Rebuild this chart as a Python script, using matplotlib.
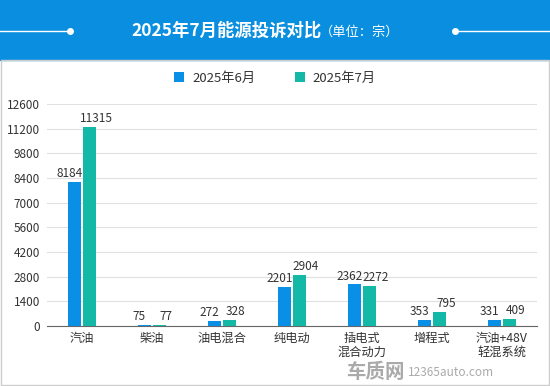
import matplotlib
matplotlib.use("Agg")
import matplotlib.pyplot as plt
from matplotlib.patches import Rectangle
import numpy as np

plt.rcParams['font.family'] = ['Noto Sans CJK SC', 'DejaVu Sans']

categories = ["汽油", "柴油", "油电混合", "纯电动", "插电式\n混合动力", "增程式", "汽油+48V\n轻混系统"]
june = [8184, 75, 272, 2201, 2362, 353, 331]
july = [11315, 77, 328, 2904, 2272, 795, 409]
yticks = [0, 1400, 2800, 4200, 5600, 7000, 8400, 9800, 11200, 12600]
series_names = ["2025年6月", "2025年7月"]
title = "2025年7月能源投诉对比"
unit = "（单位：宗）"

W, H = 550, 386
fig = plt.figure(figsize=(W/100, H/100), dpi=100)
fig.patch.set_facecolor('white')

# header band
bg = fig.add_axes([0, 0, 1, 1], zorder=-1)
bg.set_xlim(0, W); bg.set_ylim(H, 0); bg.axis('off')
bg.add_patch(Rectangle((0, 0), W, 60, color='#0a8fe0'))
bg.add_patch(Rectangle((1, 60), W-2, H-61, fill=False, ec='#cccccc', lw=1))
bg.plot([0, 70], [30.5, 30.5], color='white', lw=1)
bg.plot([70], [30.5], 'o', color='white', ms=4)
bg.plot([455, W], [30.5, 30.5], color='white', lw=1)
bg.plot([455], [30.5], 'o', color='white', ms=4)
bg.text(322, 31, title, color='white', fontsize=12.5, fontweight='bold', ha='right', va='center')
bg.text(320, 32, unit, color='white', fontsize=9.5, ha='left', va='center')

# chart axes
left, right, top, bottom = 47, 537, 104, 326
ax = fig.add_axes([left/W, 1-bottom/H, (right-left)/W, (bottom-top)/H])
x = np.arange(len(categories))
bw = 0.195
c1, c2 = '#0a8fe6', '#14b8a6'
b1 = ax.bar(x - bw/2 - 0.012, june, bw, color=c1, label=series_names[0], zorder=3)
b2 = ax.bar(x + bw/2 + 0.012, july, bw, color=c2, label=series_names[1], zorder=3)
for bars, vals, off in ((b1, june, -0.07), (b2, july, 0.09)):
    for r, v in zip(bars, vals):
        ax.text(r.get_x() + r.get_width()/2 + off, v + 100, str(v), ha='center', va='bottom',
                fontsize=8.5, color='#333333')
ax.set_xlim(-0.5, len(categories) - 0.5)
ax.set_ylim(0, 12600)
ax.set_yticks(yticks)
ax.set_yticklabels([str(t) for t in yticks], fontsize=8.5, color='#333333')
ax.set_xticks(x)
ax.set_xticklabels(categories, fontsize=8.8, color='#333333', linespacing=1.1)
ax.tick_params(axis='both', length=0, pad=5)
ax.tick_params(axis='x', pad=4)
ax.grid(axis='y', color='#e0e0e0', lw=0.8, zorder=0)
for s in ['top', 'right', 'left']:
    ax.spines[s].set_visible(False)
ax.spines['bottom'].set_color('#666666')

leg = fig.legend(handles=[b1, b2], labels=series_names, loc='center', bbox_to_anchor=(275/W, 1-78/H),
                 ncol=2, frameon=False, fontsize=9.5, handlelength=0.75, handleheight=0.75,
                 columnspacing=3.0, handletextpad=0.6)
for t in leg.get_texts():
    t.set_color('#333333')

# watermark
bg.text(375, 372, "车质网", fontsize=14, fontweight='bold', color='#aaaaaa', ha='center', va='center')
bg.text(451, 373, "12365auto.com", fontsize=8.5, color='#aaaaaa', ha='center', va='center')

fig.savefig('out.png', dpi=100, facecolor='white')
